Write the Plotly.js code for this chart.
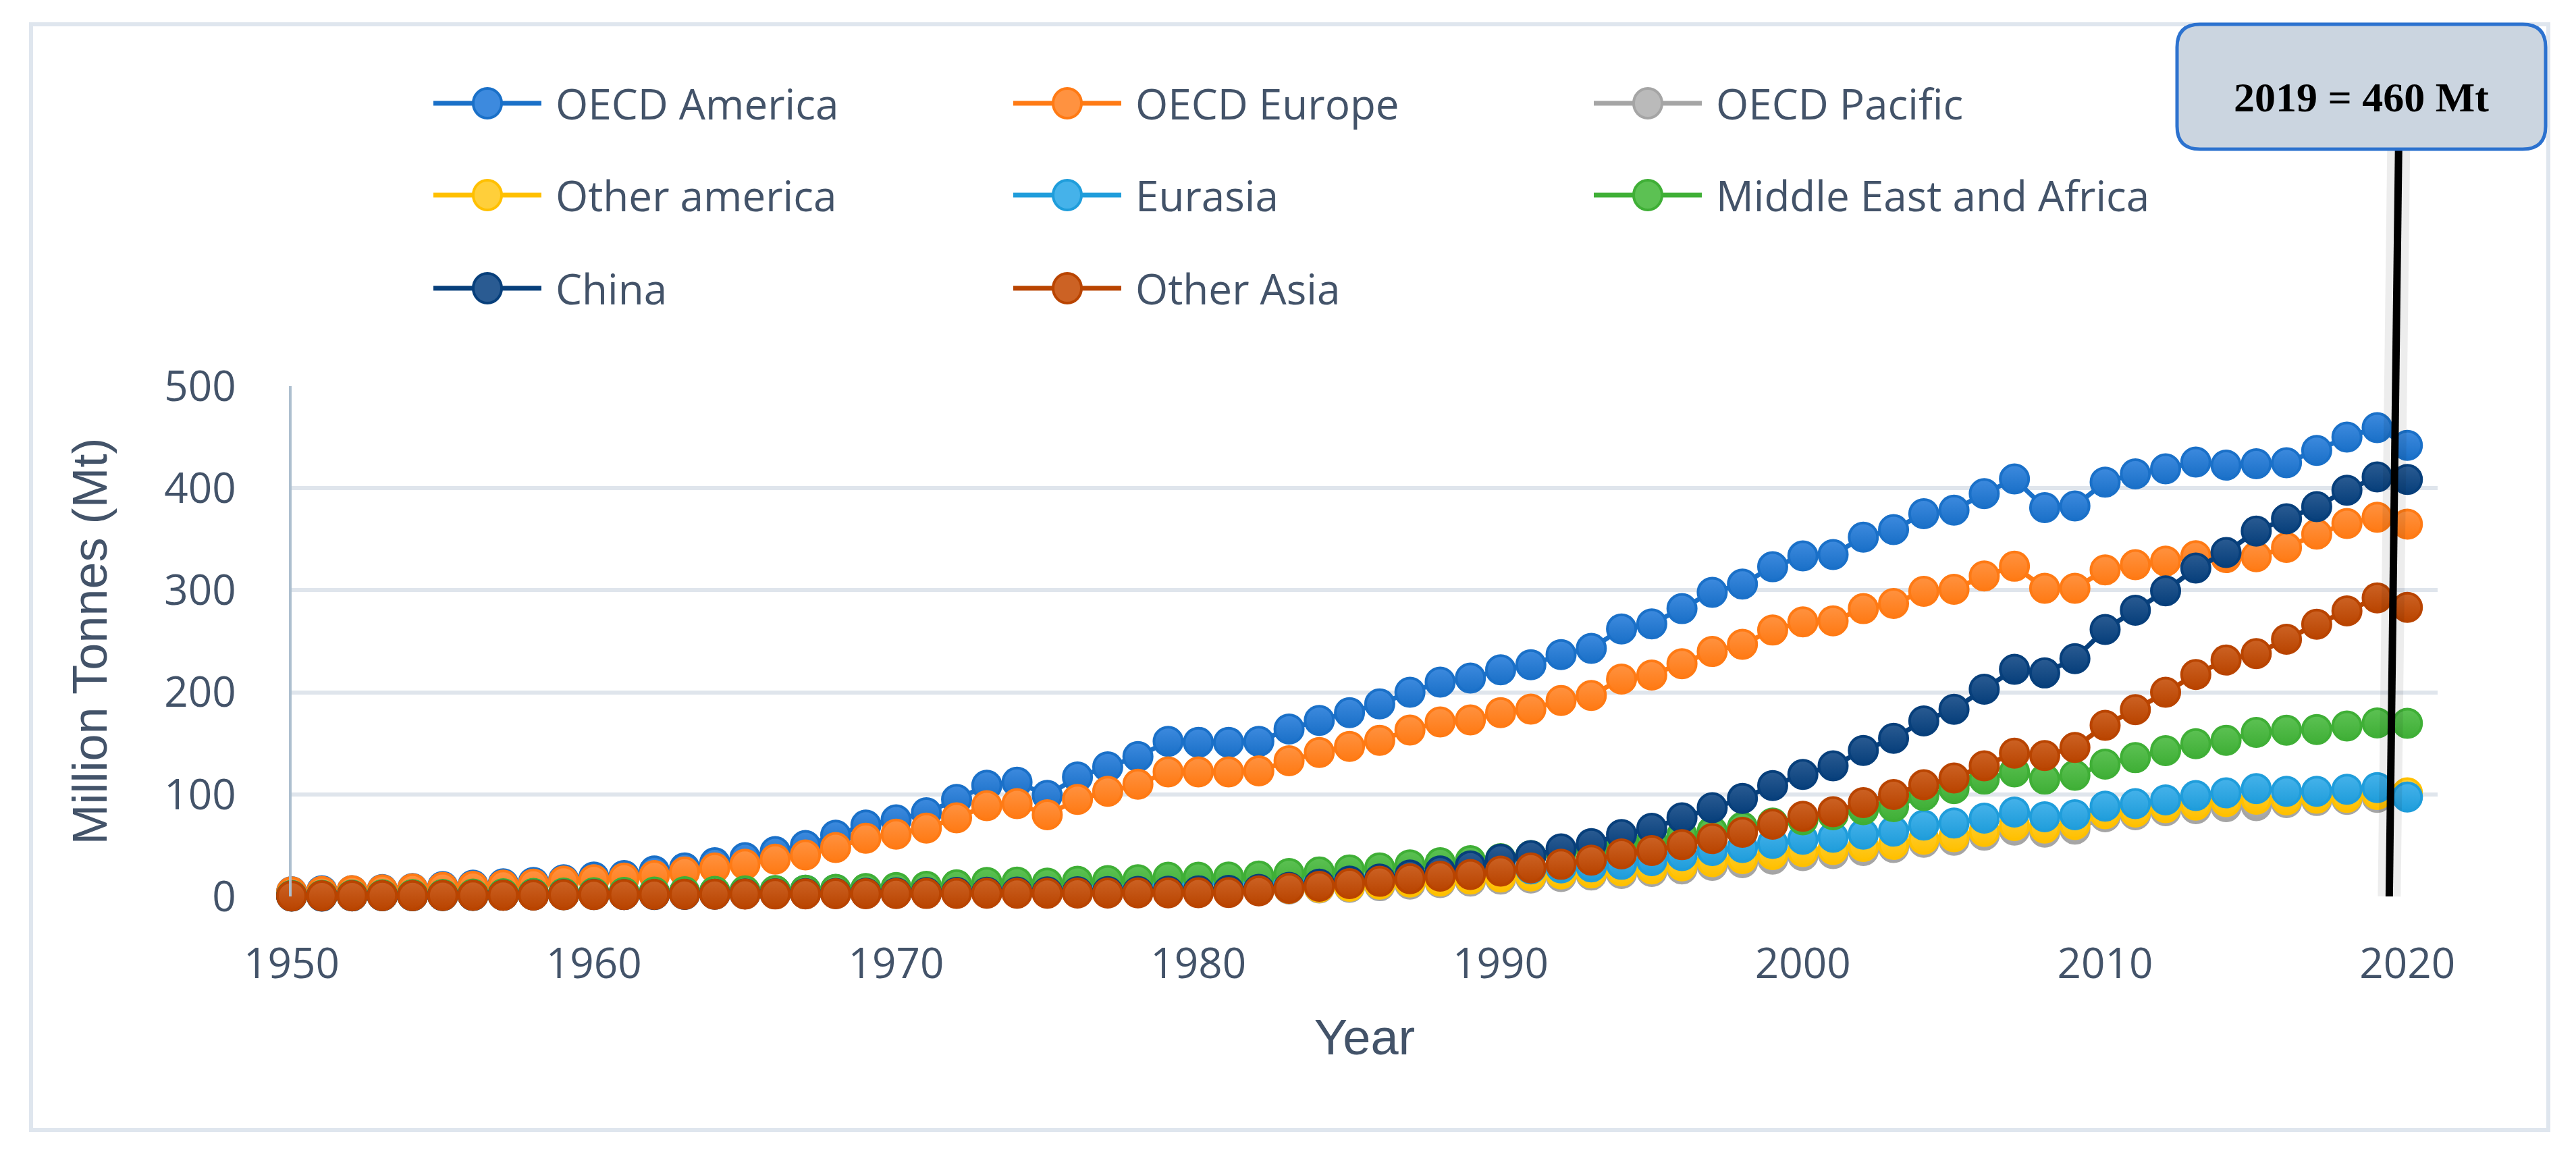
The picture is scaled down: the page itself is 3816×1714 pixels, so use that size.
<!DOCTYPE html>
<html>
<head>
<meta charset="utf-8">
<script src="https://cdn.plot.ly/plotly-3.0.1.min.js"></script>
<style>
  html, body { margin: 0; padding: 0; background: #ffffff; }
  #chart { width: 3816px; height: 1714px; }
</style>
</head>
<body>
<div id="chart"></div>
<script>
// ---------------- DATA ----------------
const years = [];
for (let y = 1950; y <= 2020; y++) years.push(y);

const seriesNames = ["OECD America", "OECD Europe", "OECD Pacific", "Other america",
                     "Eurasia", "Middle East and Africa", "China", "Other Asia"];

const oecdAmerica = [4.7,5.7,5.7,6.7,7.7,9.7,11,12.4,13.8,16.4,
  19,20.5,25,28,33,38,44,50,60,70,
  75,82,95,109,112,99,117,127,137,152,
  151,151,152,164,172.5,180,188.6,200,210,214,
  222,227,237,243,262,267,282,298,306,323,
  333.6,335,352,359.5,375,378.5,394.7,409,381,382.6,
  406,414,419,425.6,422.6,424,425,437,450,459.4,
  442];

const oecdEurope = [4.4,5,5.7,6.4,7.4,9,10,11,12,15,
  16.4,18,20.5,24,28,31.5,36.6,40.6,48,57,
  61,67,77,89,91,80,95,103,110,122,
  122,122,123,133,141,147,153,163,171,173,
  180,183.6,192,197,213,217,228,240,247,261,
  269,270,282,287,299,301,314,323.5,302,302,
  320,325,328.6,333.8,332,332.8,342,355,365.4,371.6,
  364.8];

const oecdPacific = [0.3,0.4,0.5,0.6,0.7,0.8,1,1.1,1.3,1.5,
  1.7,1.9,2.1,2.4,2.7,3,3.3,3.6,3.9,4.2,
  4.5,4.7,5,5.3,5.5,5.3,5.6,5.8,6,6.3,
  6.3,6.4,6.6,7.3,8.2,9,10.5,12,13.5,15,
  17,18,19.5,21,22.5,24.5,27,30.5,33,36.5,
  40,42,45,48,53,55,60,65,63,66,
  78,80,84,86,88,89,92,94,95,97,
  98];

const otherAmerica = [0.5,0.6,0.7,0.8,0.9,1,1.2,1.4,1.6,1.8,
  2,2.2,2.4,2.7,3,3.3,3.6,3.9,4.2,4.5,
  4.8,5,5.2,5.5,5.7,5.5,5.8,6,6.2,6.5,
  6.5,6.6,7,8,9,10,12,14,15,17,
  19,20,22,23,25,27,30,34,37,41,
  44,46,49,51,56,58.5,63.7,69.5,67,70.5,
  81,82.6,87,89.5,93,95.3,94.6,96.3,97,99.8,
  101.5];

const eurasia = [0.8,0.9,1,1.2,1.3,1.5,1.8,2.1,2.4,2.7,
  3,3.4,3.8,4.2,4.6,5,5.6,6.2,6.8,7.4,
  8,8.6,9.2,9.8,10.4,11,11.6,12.2,12.8,13.4,
  14,14.8,15.6,16.4,17.2,18,19,20,22,24,
  26,27,28,29,31.5,35,40,45,48,52,
  56,58,61,64,70,72,76.7,82.6,78,80,
  88.4,91,94.6,98.8,101.5,105.6,103,103,105,106.7,
  97.4];

const middleEastAfrica = [1,1.2,1.4,1.6,1.8,2,2.3,2.6,3,3.3,
  3.6,4,4.3,4.6,5,5.4,5.8,6.2,7,7.8,
  8.7,10,11.4,13.8,14,13,14.8,15.5,16.4,18.8,
  18.8,19,20,22.5,24,26,28,31,33,35,
  37,40,43,46,50,55,60,64,68,72,
  75,80,85,88,98.8,105.6,115,122,115,118.7,
  129.7,136,142.8,149.7,153,160.7,162.8,163.5,167,170,
  169.6];

const china = [0.3,0.4,0.5,0.6,0.7,0.8,1,1.2,1.5,1.8,
  2,1.8,1.8,2,2.2,2.5,2.7,2.8,3,3.2,
  3.5,3.8,4,4.2,4.3,4.5,4.6,4.8,5,5.2,
  5.5,6,7,9,12,15,17,21,25,30,
  36.6,40,46.6,51.7,60.7,66.8,77,87,96,108.7,
  119.5,128,143,155,172,183.4,203,222.6,219,233,
  261.5,280.5,299.4,321.7,337,358,370,382,398,411,
  408.5];

const otherAsia = [0.5,0.6,0.7,0.8,0.9,1,1.1,1.2,1.4,1.6,
  1.8,1.9,2,2.1,2.2,2.3,2.4,2.5,2.6,2.7,
  2.8,2.9,3,3.1,3.2,3.2,3.3,3.3,3.4,3.5,
  3.6,3.8,5.5,8,10,12.5,14.8,17.4,19.8,21.5,
  24.8,28,31.5,35.6,41.6,45,50.7,56.7,62.8,70.8,
  78.5,83,92,99.8,109.4,116,128,140.4,138,146,
  167.6,183,200,217.5,231.6,238,252,266.7,279.8,292.5,
  283.2];

const seriesValues = [oecdAmerica, oecdEurope, oecdPacific, otherAmerica,
                      eurasia, middleEastAfrica, china, otherAsia];

const xTickVals = [1950, 1960, 1970, 1980, 1990, 2000, 2010, 2020];
const yTickVals = [0, 100, 200, 300, 400, 500];

const highlightYear = 2019;
const highlightValue = 460;
const highlightUnit = "Mt";

// ---------------- STYLE ----------------
const baseColors  = ["#1a70c8", "#ff7a14", "#a5a5a5", "#ffc000", "#1f9ddb", "#3faf36", "#073f7b", "#b94400"];
const lightColors = ["#3d8ade", "#ff9240", "#bababa", "#ffcf3a", "#45b2ea", "#5cc153", "#2a5b92", "#cc6224"];

const W = 3816, H = 1714;
const L = 432, R = 3611, T = 572, B = 1328;
const PW = R - L, PH = B - T;
const px = p => (p - L) / PW;
const py = p => (B - p) / PH;

const textColor = "#435369";
const sans = "Open Sans, Noto Sans, sans-serif";
const sans2 = "Liberation Sans, Arial, sans-serif";

// ---------------- TRACES ----------------
const traces = seriesNames.map((name, i) => ({
  type: "scatter",
  mode: "lines+markers",
  name: name,
  x: years,
  y: seriesValues[i],
  cliponaxis: false,
  line: { color: baseColors[i], width: 7 },
  marker: {
    size: 42,
    color: lightColors[i],
    gradient: { type: "vertical", color: baseColors[i] },
    line: { color: baseColors[i], width: 4 }
  },
  showlegend: false,
  hoverinfo: "x+y+name"
}));

// ---------------- SHAPES / ANNOTATIONS ----------------
const shapes = [];
const annotations = [];

// outer chart border
shapes.push({
  type: "rect", xref: "paper", yref: "paper", layer: "below",
  x0: px(46), x1: px(3775), y0: py(1674), y1: py(36),
  line: { color: "#dfe6ee", width: 6 }, fillcolor: "rgba(0,0,0,0)"
});

// custom legend (3 columns)
const colX = [642, 1501, 2361];
const rowY = [153, 289, 427];
seriesNames.forEach((name, i) => {
  const cx = colX[i % 3], cy = rowY[Math.floor(i / 3)];
  shapes.push({
    type: "line", xref: "paper", yref: "paper",
    x0: px(cx), x1: px(cx + 160), y0: py(cy), y1: py(cy),
    line: { color: baseColors[i], width: 7 }
  });
  shapes.push({
    type: "circle", xref: "paper", yref: "paper",
    xsizemode: "pixel", ysizemode: "pixel",
    xanchor: px(cx + 80), yanchor: py(cy),
    x0: -21, x1: 21, y0: -22, y1: 22,
    fillcolor: lightColors[i],
    line: { color: baseColors[i], width: 4 }
  });
  annotations.push({
    xref: "paper", yref: "paper", x: px(cx + 179), y: py(cy),
    xanchor: "left", yanchor: "middle", showarrow: false,
    text: name, font: { family: sans, size: 62, color: textColor }
  });
});

// vertical marker line at highlight year (slightly tilted as in original)
shapes.push({
  type: "line", xref: "x", yref: "paper", layer: "above",
  x0: highlightYear + 0.40, x1: highlightYear + 0.71, y0: 0, y1: py(221),
  line: { color: "rgba(0,0,0,0.07)", width: 34 }
});
shapes.push({
  type: "line", xref: "x", yref: "paper", layer: "above",
  x0: highlightYear + 0.40, x1: highlightYear + 0.71, y0: 0, y1: py(221),
  line: { color: "#000000", width: 11 }
});

// rounded callout box
function roundedRect(x0p, y0p, x1p, y1p, r) {
  const X0 = px(x0p), X1 = px(x1p), Y0 = py(y1p), Y1 = py(y0p); // Y0 bottom, Y1 top (paper)
  const rx = r / PW, ry = r / PH;
  return `M${X0 + rx},${Y1} L${X1 - rx},${Y1} Q${X1},${Y1} ${X1},${Y1 - ry} ` +
         `L${X1},${Y0 + ry} Q${X1},${Y0} ${X1 - rx},${Y0} ` +
         `L${X0 + rx},${Y0} Q${X0},${Y0} ${X0},${Y0 + ry} ` +
         `L${X0},${Y1 - ry} Q${X0},${Y1} ${X0 + rx},${Y1} Z`;
}
shapes.push({
  type: "path", xref: "paper", yref: "paper", layer: "above",
  path: roundedRect(3225, 36, 3771, 221, 34),
  fillcolor: "#cbd5e0", line: { color: "#2c72cf", width: 5 }
});
annotations.push({
  xref: "paper", yref: "paper", x: px(3498), y: py(144),
  xanchor: "center", yanchor: "middle", showarrow: false,
  text: "<b>" + highlightYear + " = " + highlightValue + " " + highlightUnit + "</b>",
  font: { family: "Liberation Serif, Times New Roman, serif", size: 62, color: "#000000" }
});

// ---------------- LAYOUT ----------------
const layout = {
  width: W, height: H,
  margin: { l: L, r: W - R, t: T, b: H - B, pad: 0 },
  paper_bgcolor: "#ffffff",
  plot_bgcolor: "#ffffff",
  showlegend: false,
  xaxis: {
    range: [1950, 2021],
    tickvals: xTickVals,
    ticktext: xTickVals.map(String),
    showgrid: false, zeroline: false, showline: false, ticks: "",
    ticklabelstandoff: 58,
    tickfont: { family: sans, size: 62, color: textColor },
    title: { text: "Year", standoff: 44, font: { family: sans2, size: 74, color: textColor } }
  },
  yaxis: {
    range: [0, 500],
    tickvals: yTickVals,
    ticktext: yTickVals.map(String),
    showgrid: true, gridcolor: "#dfe5ec", gridwidth: 6,
    zeroline: false,
    showline: true, linecolor: "#adbfcf", linewidth: 4,
    ticks: "",
    ticklabelstandoff: 66,
    tickfont: { family: sans, size: 62, color: textColor },
    title: { text: "Million Tonnes (Mt)", standoff: 62, font: { family: sans2, size: 72, color: textColor } }
  },
  shapes: shapes,
  annotations: annotations
};

Plotly.newPlot("chart", traces, layout, { displayModeBar: false, staticPlot: true });
</script>
</body>
</html>
